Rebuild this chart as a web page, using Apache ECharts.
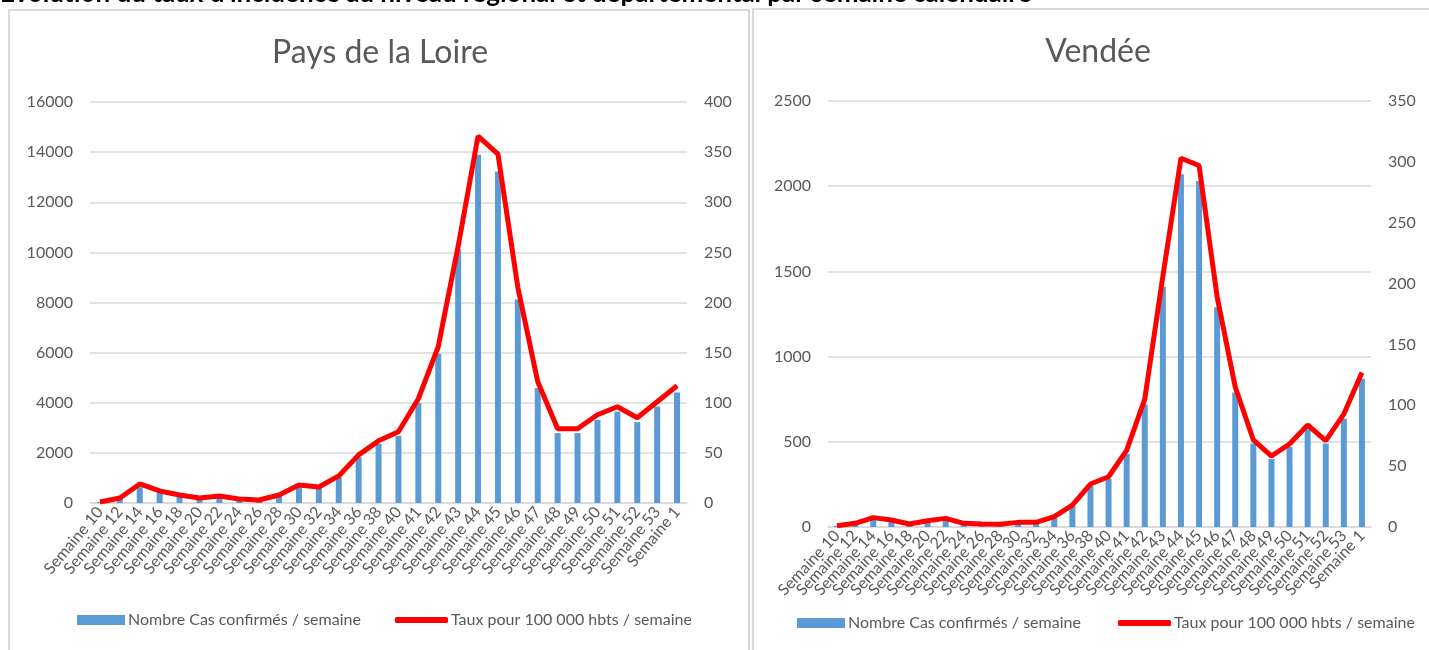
<!DOCTYPE html>
<html>
<head>
<meta charset="utf-8">
<script src="https://cdn.jsdelivr.net/npm/echarts@6/dist/echarts.min.js"></script>
<style>
  html, body { margin: 0; padding: 0; background: #fff; }
  #main { width: 1429px; height: 650px; }
</style>
</head>
<body>
<div id="main"></div>
<script>
// semaines (catégories communes aux deux graphes)
var weeks = ['Semaine 10', 'Semaine 12', 'Semaine 14', 'Semaine 16', 'Semaine 18', 'Semaine 20', 'Semaine 22', 'Semaine 24',
  'Semaine 26', 'Semaine 28', 'Semaine 30', 'Semaine 32', 'Semaine 34', 'Semaine 36', 'Semaine 38', 'Semaine 40',
  'Semaine 41', 'Semaine 42', 'Semaine 43', 'Semaine 44', 'Semaine 45', 'Semaine 46', 'Semaine 47', 'Semaine 48',
  'Semaine 49', 'Semaine 50', 'Semaine 51', 'Semaine 52', 'Semaine 53', 'Semaine 1']

// Pays de la Loire
var pdlCas = [40, 190, 630, 420, 260, 180, 250, 150, 110, 260, 650, 590, 1030, 1830, 2360, 2680,
  3990, 5960, 10120, 13900, 13230, 8120, 4590, 2790, 2790, 3320, 3650, 3230, 3850, 4410]
var pdlTaux = [1, 5, 19, 12, 8, 5, 7, 4, 3, 8, 18, 16, 27, 48, 62, 71,
  104, 156, 256, 366, 348, 215, 121, 74, 74, 88, 96, 85, 101, 117]

// Vendée
var vendeeCas = [7, 21, 53, 40, 17, 36, 49, 21, 17, 15, 26, 26, 58, 123, 242, 283,
  430, 720, 1410, 2070, 2030, 1290, 790, 490, 400, 470, 575, 490, 636, 870]
var vendeeTaux = [1, 3, 7.7, 5.8, 2.5, 5.2, 7.1, 3, 2.5, 2.2, 3.8, 3.8, 8.5, 18, 35.3, 41.3,
  63, 105, 206, 303, 297, 189, 115, 71.5, 58.3, 68.2, 83.8, 71, 92.8, 127]

var casName = 'Nombre Cas confirmés / semaine'
var tauxName = 'Taux pour 100 000 hbts / semaine'
var gris = '#595959'
var font = 'Lato, "Open Sans", sans-serif'

function xAxis(idx, rot) {
  return {
    type: 'category',
    gridIndex: idx,
    data: weeks,
    axisLine: { lineStyle: { color: '#d9d9d9', width: 1.5 } },
    axisTick: { show: false },
    axisLabel: { interval: 0, rotate: rot, color: gris, fontSize: 16, fontFamily: font, margin: 6 }
  }
}

function yAxis(idx, pos, max, interval, split) {
  return {
    type: 'value',
    gridIndex: idx,
    position: pos,
    min: 0,
    max: max,
    interval: interval,
    axisLine: { show: false },
    axisTick: { show: false },
    splitLine: { show: split, lineStyle: { color: '#d9d9d9', width: 1.5 } },
    axisLabel: { color: gris, fontSize: 16, fontFamily: font, margin: 17,
      formatter: function (v) { return String(v) } }
  }
}

function legend(name, left, top, line) {
  return {
    data: [name],
    left: left,
    top: top,
    padding: 0,
    icon: line ? 'roundRect' : 'rect',
    itemWidth: line ? 53 : 48,
    itemHeight: line ? 6 : 10,
    itemGap: 4,
    textStyle: { color: gris, fontSize: 16, fontFamily: font, padding: [0, 0, 0, -2] }
  }
}

var myChart = echarts.init(document.getElementById('main'))
myChart.setOption({
  animation: false,
  graphic: [
    {
      type: 'text', left: 0, top: -19,
      style: { text: "Evolution du taux d'incidence au niveau régional et départemental par semaine calendaire",
        fill: '#000', font: 'bold 26px ' + font }
    },
    { type: 'rect', shape: { x: 9, y: 10, width: 740, height: 700 }, style: { fill: 'none', stroke: '#d9d9d9', lineWidth: 2 } },
    { type: 'rect', shape: { x: 753, y: 9, width: 700, height: 700 }, style: { fill: 'none', stroke: '#d9d9d9', lineWidth: 2 } }
  ],
  title: [
    { text: 'Pays de la Loire', left: 375, top: 32, textAlign: 'center',
      textStyle: { color: gris, fontSize: 32, fontWeight: 'normal', fontFamily: font } },
    { text: 'Vendée', left: 1093, top: 31, textAlign: 'center',
      textStyle: { color: gris, fontSize: 32, fontWeight: 'normal', fontFamily: font } }
  ],
  legend: [
    legend(casName, 77, 612, false),
    legend(tauxName, 395, 612, true),
    legend(casName, 797, 615, false),
    legend(tauxName, 1118, 615, true)
  ],
  grid: [
    { left: 90, top: 102, width: 597, height: 401 },
    { left: 828, top: 101, width: 543, height: 426 }
  ],
  xAxis: [xAxis(0, 50), xAxis(1, 47)],
  yAxis: [
    yAxis(0, 'left', 16000, 2000, true),
    yAxis(0, 'right', 400, 50, false),
    yAxis(1, 'left', 2500, 500, true),
    yAxis(1, 'right', 350, 50, false)
  ],
  series: [
    { name: casName, type: 'bar', xAxisIndex: 0, yAxisIndex: 0, data: pdlCas, barWidth: 6,
      itemStyle: { color: '#5b9bd5' } },
    { name: tauxName, type: 'line', xAxisIndex: 0, yAxisIndex: 1, data: pdlTaux, symbol: 'none',
      lineStyle: { color: '#ff0000', width: 5 }, itemStyle: { color: '#ff0000' } },
    { name: casName, type: 'bar', xAxisIndex: 1, yAxisIndex: 2, data: vendeeCas, barWidth: 6,
      itemStyle: { color: '#5b9bd5' } },
    { name: tauxName, type: 'line', xAxisIndex: 1, yAxisIndex: 3, data: vendeeTaux, symbol: 'none',
      lineStyle: { color: '#ff0000', width: 5 }, itemStyle: { color: '#ff0000' } }
  ]
})
</script>
</body>
</html>
